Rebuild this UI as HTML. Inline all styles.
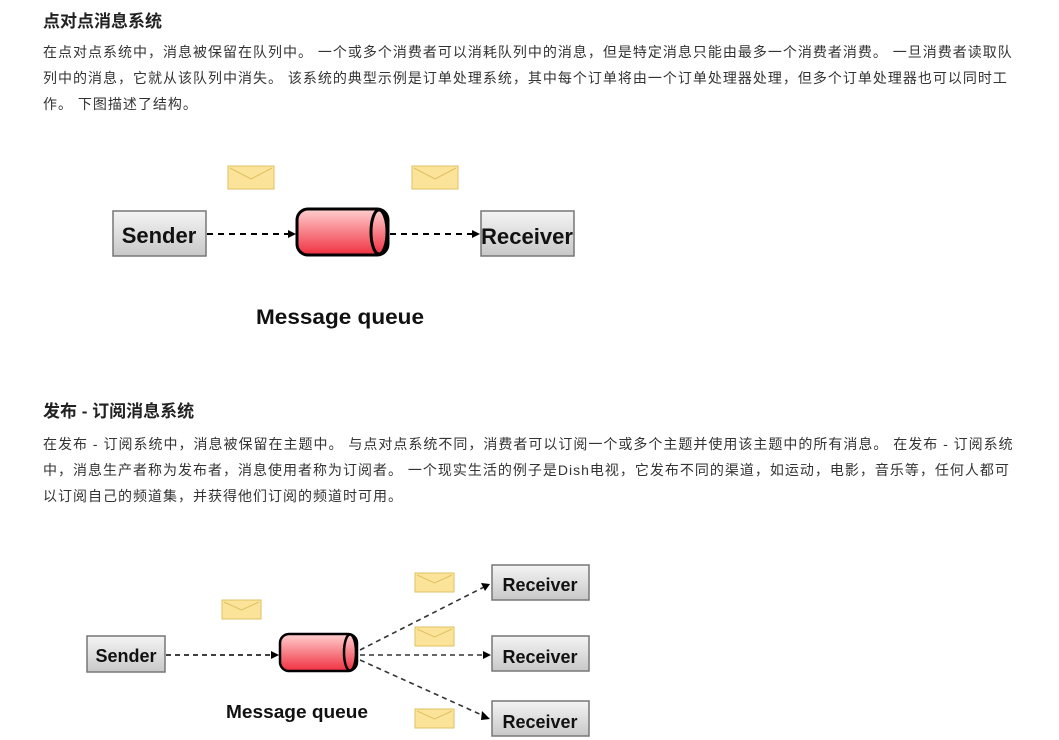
<!DOCTYPE html>
<html><head><meta charset="utf-8"><style>
body{margin:0;width:1059px;height:740px;background:#fff;position:relative;overflow:hidden;font-family:"Liberation Sans","Noto Sans CJK SC",sans-serif;color:#333}
.h{position:absolute;left:43px;font-size:17px;font-weight:bold;color:#222}
.p{position:absolute;left:43px;font-size:14px;line-height:26px;color:#333;white-space:nowrap;letter-spacing:1.0px}
svg{position:absolute;left:0;top:0}
</style></head><body>
<div class="h" style="top:7px">点对点消息系统</div>
<div class="p" style="top:39px">在点对点系统中，消息被保留在队列中。 一个或多个消费者可以消耗队列中的消息，但是特定消息只能由最多一个消费者消费。 一旦消费者读取队<br>列中的消息，它就从该队列中消失。 该系统的典型示例是订单处理系统，其中每个订单将由一个订单处理器处理，但多个订单处理器也可以同时工<br>作。 下图描述了结构。</div>
<div class="h" style="top:397px">发布 - 订阅消息系统</div>
<div class="p" style="top:431px">在发布 - 订阅系统中，消息被保留在主题中。 与点对点系统不同，消费者可以订阅一个或多个主题并使用该主题中的所有消息。 在发布 - 订阅系统<br>中，消息生产者称为发布者，消息使用者称为订阅者。 一个现实生活的例子是Dish电视，它发布不同的渠道，如运动，电影，音乐等，任何人都可<br>以订阅自己的频道集，并获得他们订阅的频道时可用。</div>
<svg width="1059" height="740" font-family="Liberation Sans, sans-serif" font-weight="bold">
<defs>
<linearGradient id="g" x1="0" y1="0" x2="0" y2="1"><stop offset="0" stop-color="#f4f4f4"/><stop offset="1" stop-color="#c8c8c8"/></linearGradient>
<linearGradient id="r" x1="0" y1="0" x2="0" y2="1"><stop offset="0" stop-color="#ffd0d0"/><stop offset="1" stop-color="#f03040"/></linearGradient>
<g id="env"><rect x="0" y="0" width="46" height="23" fill="#fbe39a" stroke="#e0c060"/><polyline points="2,2 23,13 44,2" fill="none" stroke="#e0c060"/></g>
<g id="env2"><rect x="0" y="0" width="39" height="19" fill="#fbe39a" stroke="#e0c060"/><polyline points="2,2 19.5,10 37,2" fill="none" stroke="#e0c060"/></g>
</defs>
<use href="#env" x="228" y="166"/><use href="#env" x="412" y="166"/>
<rect x="113" y="211" width="93" height="45" fill="url(#g)" stroke="#777" stroke-width="1.5"/>
<text x="159" y="243" font-size="22" text-anchor="middle" fill="#111">Sender</text>
<rect x="481" y="211" width="93" height="45" fill="url(#g)" stroke="#777" stroke-width="1.5"/>
<text x="527" y="244" font-size="22" text-anchor="middle" fill="#111" textLength="92" lengthAdjust="spacingAndGlyphs">Receiver</text>
<rect x="297" y="209" width="91" height="46" rx="11" fill="url(#r)" stroke="#000" stroke-width="3"/>
<ellipse cx="379" cy="232" rx="8" ry="22" fill="url(#r)" stroke="#000" stroke-width="3"/>
<line x1="207" y1="234" x2="290" y2="234" stroke="#000" stroke-width="2" stroke-dasharray="6,5"/>
<polygon points="288,230 296,234 288,238" fill="#000"/>
<line x1="390" y1="234" x2="474" y2="234" stroke="#000" stroke-width="2" stroke-dasharray="6,5"/>
<polygon points="472,230 480,234 472,238" fill="#000"/>
<text x="340" y="324" font-size="21" text-anchor="middle" fill="#111" textLength="168" lengthAdjust="spacingAndGlyphs">Message queue</text>

<use href="#env2" x="222" y="600"/><use href="#env2" x="415" y="573"/><use href="#env2" x="415" y="627"/><use href="#env2" x="415" y="709"/>
<rect x="87" y="636" width="78" height="36" fill="url(#g)" stroke="#777" stroke-width="1.5"/>
<text x="126" y="662" font-size="18" text-anchor="middle" fill="#111">Sender</text>
<rect x="492" y="565" width="97" height="35" fill="url(#g)" stroke="#777" stroke-width="1.5"/>
<text x="540" y="591" font-size="18" text-anchor="middle" fill="#111">Receiver</text>
<rect x="492" y="636" width="97" height="35" fill="url(#g)" stroke="#777" stroke-width="1.5"/>
<text x="540" y="663" font-size="18" text-anchor="middle" fill="#111">Receiver</text>
<rect x="492" y="701" width="97" height="35" fill="url(#g)" stroke="#777" stroke-width="1.5"/>
<text x="540" y="728" font-size="18" text-anchor="middle" fill="#111">Receiver</text>
<rect x="280" y="634" width="77" height="37" rx="9" fill="url(#r)" stroke="#000" stroke-width="2.5"/>
<ellipse cx="350" cy="652.5" rx="6" ry="18" fill="url(#r)" stroke="#000" stroke-width="2.5"/>
<line x1="166" y1="655" x2="272" y2="655" stroke="#000" stroke-width="1.6" stroke-dasharray="5,4"/>
<polygon points="271,651 279,655 271,659" fill="#000"/>
<line x1="360" y1="655" x2="484" y2="655" stroke="#333" stroke-width="1.6" stroke-dasharray="5,4"/>
<polygon points="483,651 491,655 483,659" fill="#000"/>
<line x1="360" y1="650" x2="484" y2="587" stroke="#333" stroke-width="1.6" stroke-dasharray="5,4"/>
<polygon points="481,583 490,584 485,591" fill="#000"/>
<line x1="360" y1="660" x2="484" y2="716" stroke="#333" stroke-width="1.6" stroke-dasharray="5,4"/>
<polygon points="482,711 490,719 481,720" fill="#000"/>
<text x="297" y="718" font-size="18" text-anchor="middle" fill="#111" textLength="142" lengthAdjust="spacingAndGlyphs">Message queue</text>
</svg>
</body></html>
